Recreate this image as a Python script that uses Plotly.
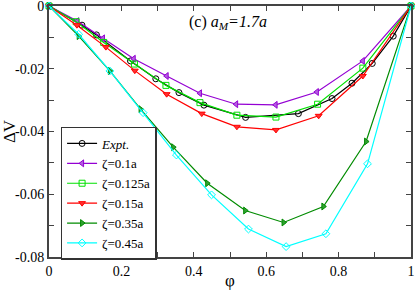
import plotly.graph_objects as go

expt_x = [0, 0.091, 0.131, 0.225, 0.295, 0.359, 0.428, 0.543, 0.689, 0.782, 0.837, 0.893, 0.951, 1.0]
expt_y = [0, -0.0061, -0.0092, -0.0175, -0.0232, -0.0276, -0.0316, -0.0355, -0.0343, -0.0295, -0.0246, -0.0183, -0.0096, 0]

z010_x = [0, 0.078, 0.149, 0.234, 0.325, 0.417, 0.517, 0.626, 0.740, 0.867, 1.0]
z010_y = [0, -0.0048, -0.0103, -0.0168, -0.0223, -0.0278, -0.0313, -0.0315, -0.0274, -0.0175, 0]

z0125_x = [0, 0.075, 0.151, 0.236, 0.323, 0.417, 0.519, 0.627, 0.742, 0.867, 1.0]
z0125_y = [0, -0.0050, -0.0116, -0.0185, -0.0253, -0.0308, -0.0348, -0.0354, -0.0313, -0.0198, 0]

z015_x = [0, 0.077, 0.157, 0.237, 0.325, 0.422, 0.519, 0.627, 0.745, 0.867, 1.0]
z015_y = [0, -0.0061, -0.0131, -0.0206, -0.0281, -0.0343, -0.0385, -0.0395, -0.0350, -0.0223, 0]

z035_x = [0, 0.082, 0.168, 0.253, 0.343, 0.437, 0.542, 0.648, 0.758, 0.876, 1.0]
z035_y = [0, -0.0096, -0.0207, -0.0329, -0.0450, -0.0565, -0.0652, -0.0690, -0.0639, -0.0432, 0]

z045_x = [0, 0.082, 0.168, 0.260, 0.352, 0.449, 0.551, 0.655, 0.765, 0.880, 1.0]
z045_y = [0, -0.0090, -0.0207, -0.0340, -0.0475, -0.0602, -0.0711, -0.0767, -0.0726, -0.0503, 0]

x_ticks = [0, 0.2, 0.4, 0.6, 0.8, 1]
x_tick_labels = ["0", "0.2", "0.4", "0.6", "0.8", "1"]
y_ticks = [0, -0.02, -0.04, -0.06, -0.08]
y_tick_labels = ["0", "-0.02", "-0.04", "-0.06", "-0.08"]

series = [
    ("<i>Expt.</i>", expt_x, expt_y, "#000000", "circle-open", None),
    ("ζ=0.1a", z010_x, z010_y, "#9400d3", "triangle-left", "#b45ee0"),
    ("ζ=0.125a", z0125_x, z0125_y, "#00e000", "square-open", None),
    ("ζ=0.15a", z015_x, z015_y, "#ff0000", "triangle-down", "#ff3030"),
    ("ζ=0.35a", z035_x, z035_y, "#008b00", "triangle-right", "#30a030"),
    ("ζ=0.45a", z045_x, z045_y, "#00ffff", "diamond-open", None),
]

fig = go.Figure()
for name, xs, ys, col, sym, fill in series:
    marker = dict(symbol=sym, size=6, color=fill if fill else col,
                  line=dict(color=col, width=1))
    fig.add_trace(go.Scatter(x=xs, y=ys, name=name, mode="lines+markers",
                             line=dict(color=col, width=1.2), marker=marker,
                             cliponaxis=False))

font = "Liberation Serif, Times New Roman, serif"
axis_common = dict(showline=True, linecolor="#444", linewidth=2, mirror="allticks",
                   ticks="inside", ticklen=5, tickcolor="#444", tickwidth=1,
                   showgrid=False, zeroline=False, automargin=False,
                   ticklabeloverflow="allow",
                   tickfont=dict(family=font, size=14, color="#000"))
fig.update_xaxes(range=[-0.0001, 1.0001], tickvals=x_ticks, ticktext=x_tick_labels,
                 minor=dict(ticks="inside", dtick=0.1, ticklen=5, tickcolor="#444", showgrid=False),
                 title=dict(text="φ", font=dict(family=font, size=17, color="#000"), standoff=4),
                 **axis_common)
fig.update_yaxes(range=[-0.08001, 0.00001], tickvals=y_ticks, ticktext=y_tick_labels,
                 minor=dict(ticks="inside", dtick=0.01, ticklen=5, tickcolor="#444", showgrid=False),
                 title=dict(text="ΔV", font=dict(family=font, size=17, color="#000"), standoff=6),
                 **axis_common)

fig.add_annotation(x=0.494, y=-0.0051, xref="x", yref="y", showarrow=False,
                   xanchor="center", yanchor="middle",
                   text="(c) <i>a</i><sub><i>M</i></sub><i>=1.7a</i>",
                   font=dict(family=font, size=16, color="#000"))

fig.update_layout(
    width=415, height=290,
    margin=dict(l=49, r=4, t=6, b=33),
    paper_bgcolor="white", plot_bgcolor="white",
    showlegend=True,
    legend=dict(x=0.032, y=0.518, xanchor="left", yanchor="top",
                bgcolor="white", bordercolor="#333", borderwidth=1.5,
                font=dict(family=font, size=13, color="#000"),
                itemwidth=30, tracegroupgap=0, itemsizing="trace"),
)

fig.write_html("out.html", config={"displayModeBar": False},
               post_script="document.body.style.margin='0';")
